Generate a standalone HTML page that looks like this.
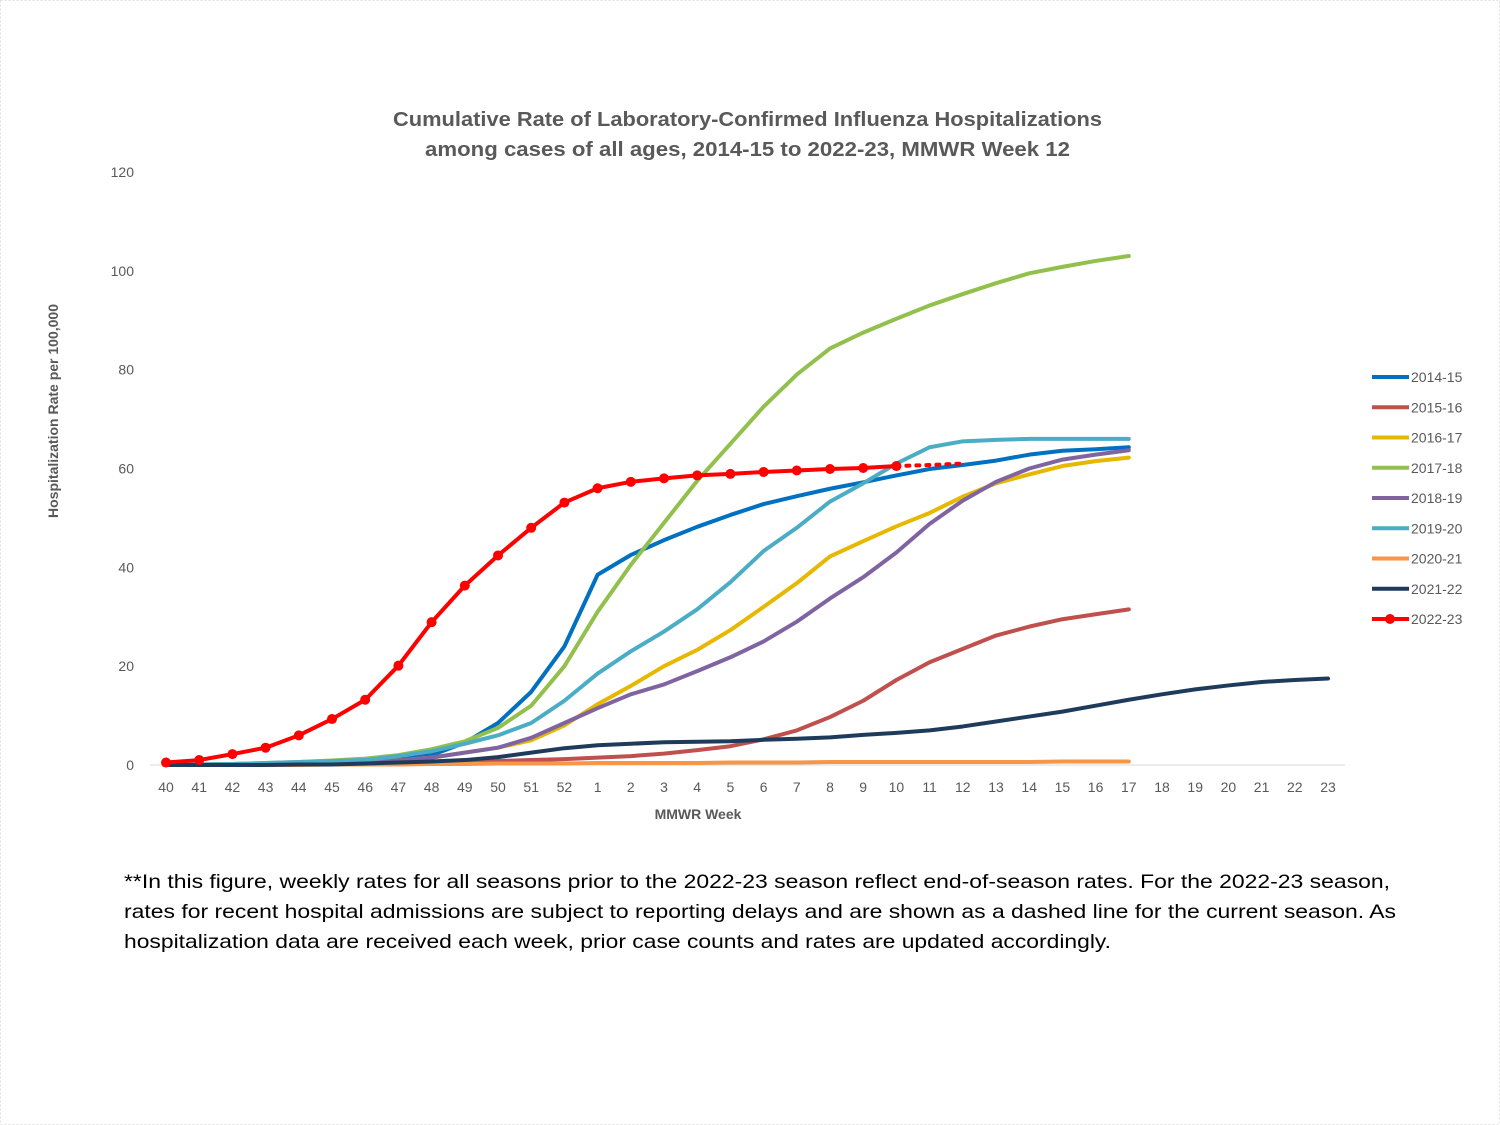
<!DOCTYPE html>
<html><head><meta charset="utf-8"><style>
html,body{margin:0;padding:0;background:#fff;}
svg{display:block;font-family:"Liberation Sans",sans-serif;}
</style></head><body>
<svg id="chart" width="1500" height="1125" viewBox="0 0 1500 1125" xmlns="http://www.w3.org/2000/svg">
<rect x="0.5" y="0.5" width="1499" height="1124" fill="#fff" stroke="#e0e0e0" stroke-dasharray="2,2"/>
<text x="393" y="126" textLength="709" lengthAdjust="spacingAndGlyphs" font-size="20" font-weight="bold" fill="#595959">Cumulative Rate of Laboratory-Confirmed Influenza Hospitalizations</text>
<text x="425" y="156" textLength="645" lengthAdjust="spacingAndGlyphs" font-size="20" font-weight="bold" fill="#595959">among cases of all ages, 2014-15 to 2022-23, MMWR Week 12</text>
<text transform="translate(58,411) rotate(-90)" text-anchor="middle" font-size="14" font-weight="bold" fill="#595959">Hospitalization  Rate per 100,000</text>
<text x="698" y="819" text-anchor="middle" font-size="14" font-weight="bold" fill="#595959">MMWR Week</text>
<line x1="150" y1="765" x2="1345" y2="765" stroke="#d9d9d9" stroke-width="1"/>
<g id="yticks"></g><g id="xticks"></g><g id="series"></g><g id="legend"></g>
<g font-family="'Liberation Sans',sans-serif" font-size="19.5" fill="#000">
<text x="124" y="888" textLength="1266" lengthAdjust="spacingAndGlyphs">**In this figure, weekly rates for all seasons prior to the 2022-23 season reflect end-of-season rates. For the 2022-23 season,</text>
<text x="124" y="918" textLength="1272" lengthAdjust="spacingAndGlyphs">rates for recent hospital admissions are subject to reporting delays and are shown as a dashed line for the current season. As</text>
<text x="124" y="948" textLength="987" lengthAdjust="spacingAndGlyphs">hospitalization data are received each week, prior case counts and rates are updated accordingly.</text>
</g>
</svg>
<script>
const weeks = ["40","41","42","43","44","45","46","47","48","49","50","51","52","1","2","3","4","5","6","7","8","9","10","11","12","13","14","15","16","17","18","19","20","21","22","23"];
const yTicks = [0,20,40,60,80,100,120];
const seasons = ["2014-15","2015-16","2016-17","2017-18","2018-19","2019-20","2020-21","2021-22","2022-23"];
const s2014 = [0,0.1,0.2,0.3,0.4,0.6,0.8,1.3,2,4.5,8.5,14.8,24,38.5,42.5,45.5,48.2,50.6,52.8,54.4,55.9,57.2,58.6,59.9,60.7,61.6,62.8,63.6,63.9,64.3];
const s2015 = [0,0,0.1,0.1,0.1,0.2,0.2,0.3,0.4,0.5,0.8,1,1.2,1.5,1.8,2.3,3,3.8,5.2,7,9.7,13,17.2,20.8,23.5,26.2,28,29.5,30.5,31.5];
const s2016 = [0,0.1,0.1,0.2,0.3,0.4,0.6,0.9,1.5,2.5,3.5,5,8,12.3,16,20,23.3,27.3,32,36.8,42.2,45.3,48.3,51,54.3,57,58.8,60.5,61.5,62.2];
const s2017 = [0,0.1,0.2,0.4,0.6,0.9,1.3,2,3.2,4.8,7.5,12,20,31,40.5,49,57.5,65,72.5,79,84.3,87.5,90.3,93,95.3,97.5,99.5,100.8,102,103];
const s2018 = [0,0.1,0.1,0.2,0.3,0.4,0.6,0.9,1.5,2.5,3.5,5.5,8.5,11.5,14.3,16.3,19,21.8,25,29,33.7,38,43,48.8,53.5,57.3,60,61.8,62.8,63.7];
const s2019 = [0,0.1,0.2,0.4,0.6,0.8,1,1.8,2.8,4.3,6,8.5,13,18.5,23,27,31.5,37,43.3,48,53.3,57,61,64.3,65.5,65.8,66,66,66,66];
const s2020 = [0,0,0,0,0,0.1,0.1,0.1,0.2,0.2,0.3,0.3,0.3,0.4,0.4,0.4,0.4,0.5,0.5,0.5,0.6,0.6,0.6,0.6,0.6,0.6,0.6,0.7,0.7,0.7];
const s2021 = [0,0,0,0,0.1,0.1,0.3,0.5,0.7,1,1.6,2.5,3.4,4,4.3,4.6,4.7,4.8,5.1,5.3,5.6,6.1,6.5,7,7.8,8.8,9.8,10.8,12,13.2,14.3,15.3,16.1,16.8,17.2,17.5];
const s2022 = [0.5,1,2.2,3.5,6,9.3,13.2,20.1,28.9,36.3,42.4,48,53.1,56,57.3,58,58.6,58.9,59.3,59.6,59.9,60.1,60.5];
const s2022dash = [60.5,60.7,61];
const colors = ["#0070c0","#c0504d","#e6b800","#92c04c","#8064a2","#4bacc6","#f79646","#1f3b5c","#ff0000"];
const allSeries = [s2014,s2015,s2016,s2017,s2018,s2019,s2020,s2021];

const NS="http://www.w3.org/2000/svg";
const xS = i => 166 + i*33.2;
const yS = v => 765 - v*4.9417;
function mk(tag, attrs, parent){const e=document.createElementNS(NS,tag);for(const k in attrs)e.setAttribute(k,attrs[k]);parent.appendChild(e);return e;}
const yg=document.getElementById('yticks'), xg=document.getElementById('xticks'), sg=document.getElementById('series'), lg=document.getElementById('legend');
yTicks.forEach(t=>{const e=mk('text',{x:134,y:yS(t)+5,'text-anchor':'end','font-size':14,fill:'#595959'},yg);e.textContent=t;

});
weeks.forEach((w,i)=>{const e=mk('text',{x:xS(i),y:792,'text-anchor':'middle','font-size':14,fill:'#595959'},xg);e.textContent=w;

});
allSeries.forEach((s,k)=>{const p=mk('polyline',{points:s.map((v,i)=>xS(i)+','+yS(v)).join(' '),fill:'none',stroke:colors[k],'stroke-width':4,'stroke-linejoin':'round','stroke-linecap':'round'},sg);

});
const off=s2022.length-1;
const d=mk('polyline',{points:s2022dash.map((v,i)=>xS(off+i)+','+yS(v)).join(' '),fill:'none',stroke:'#ff0000','stroke-width':4,'stroke-dasharray':'3,7','stroke-linecap':'round'},sg);


const r=mk('polyline',{points:s2022.map((v,i)=>xS(i)+','+yS(v)).join(' '),fill:'none',stroke:'#ff0000','stroke-width':4,'stroke-linejoin':'round'},sg);


s2022.forEach((v,i)=>{const c=mk('circle',{cx:xS(i),cy:yS(v),r:5,fill:'#ff0000'},sg);

});
seasons.forEach((s,k)=>{const y=377+30.25*k;
const g=mk('g',{},lg);


mk('line',{x1:1372,y1:y,x2:1409,y2:y,stroke:colors[k],'stroke-width':4},g);
if(k===8)mk('circle',{cx:1390,cy:y,r:5,fill:'#ff0000'},g);
const t=mk('text',{x:1411,y:y+5,'font-size':14,fill:'#595959'},g);t.textContent=s;});
</script>
</body></html>
